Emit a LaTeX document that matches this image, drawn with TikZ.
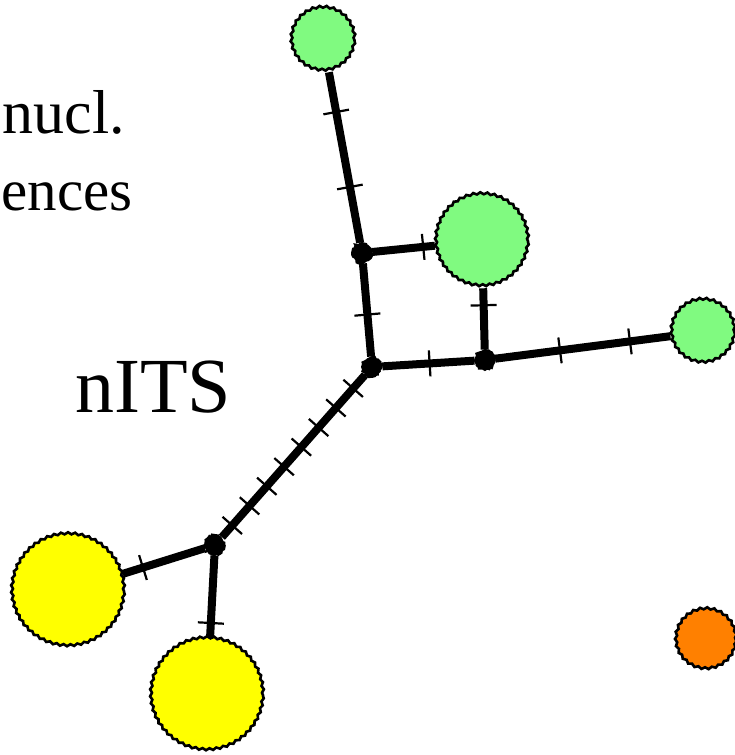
\documentclass[tikz,border=0pt]{standalone}
\usepackage{fontspec}
\setmainfont{Liberation Serif}
\usetikzlibrary{decorations.pathmorphing}
\definecolor{hapgreen}{RGB}{128,250,128}
\definecolor{hapyellow}{RGB}{255,255,0}
\definecolor{haporange}{RGB}{255,128,0}
\tikzset{
  hap/.style={circle, draw=black, line width=2.6pt, inner sep=0pt,
    decorate, decoration={snake, segment length=7pt, amplitude=1pt}},
  junction/.style={circle, fill=black, draw=black, line width=2pt, inner sep=0pt, minimum size=19pt,
    decorate, decoration={random steps, segment length=2pt, amplitude=1.3pt}},
  link/.style={line width=8pt, black},
  tick/.style={sloped, rectangle, draw=black, line width=2.2pt, inner sep=0pt,
    minimum width=0pt, minimum height=26pt},
  lbl/.style={inner sep=0pt, font=\fontsize{62}{74}\selectfont},
  lblb/.style={inner sep=0pt, font=\fontsize{59}{74}\selectfont},
  biglbl/.style={inner sep=0pt, font=\fontsize{78}{90}\selectfont}
}
\begin{document}
\begin{tikzpicture}[x=1pt,y=-1pt]
\useasboundingbox (0,0) rectangle (735,755);
% text
\node[lbl, anchor=base east] (t1) at (125,133) {nucl.};
\node[lblb, anchor=base east] (t2) at (133,210) {ences};
\node[biglbl, anchor=base west] (t3) at (75,412) {nITS};
% haplotype circles
\node[hap, fill=hapgreen, minimum size=63pt] (G1) at (323,40) {};
\node[hap, fill=hapgreen, minimum size=92pt] (G2) at (482,241) {};
\node[hap, fill=hapgreen, minimum size=63pt] (G3) at (703,332) {};
\node[hap, fill=hapyellow, minimum size=112pt] (Y1) at (68,591) {};
\node[hap, fill=hapyellow, minimum size=112pt] (Y2) at (207,695) {};
\node[hap, fill=haporange, minimum size=60pt] (O1) at (706,640) {};
% median vectors
\node[junction] (A) at (362,253) {};
\node[junction] (B) at (372,367) {};
\node[junction] (C) at (485,360) {};
\node[junction] (D) at (215,545) {};
% links
\draw[link] (G1) -- (A);
\draw[link] (A) -- (G2);
\draw[link] (A) -- (B);
\draw[link] (G2) -- (C);
\draw[link] (B) -- (C);
\draw[link] (C) -- (G3);
\draw[link] (B) -- (D);
\draw[link] (D) -- (Y1);
\draw[link] (D) -- (Y2);
% mutation ticks
\path (G1.center) -- (A.center) node[tick, pos=0.338] {} node[tick, pos=0.69] {};
\path (A.center) -- (G2.center) node[tick, pos=0.51] {};
\path (A.center) -- (B.center) node[tick, pos=0.54] {};
\path (G2.center) -- (C.center) node[tick, pos=0.54] {};
\path (B.center) -- (C.center) node[tick, pos=0.51] {};
\path (C.center) -- (G3.center) node[tick, pos=0.344] {} node[tick, pos=0.665] {};
\path (B.center) -- (D.center)
  node[tick, pos=0.12] {} node[tick, pos=0.23] {} node[tick, pos=0.34] {}
  node[tick, pos=0.45] {} node[tick, pos=0.56] {} node[tick, pos=0.67] {}
  node[tick, pos=0.78] {} node[tick, pos=0.89] {};
\path (D.center) -- (Y1.center) node[tick, pos=0.49] {};
\path (D.center) -- (Y2.center) node[tick, pos=0.52] {};
\end{tikzpicture}
\end{document}
